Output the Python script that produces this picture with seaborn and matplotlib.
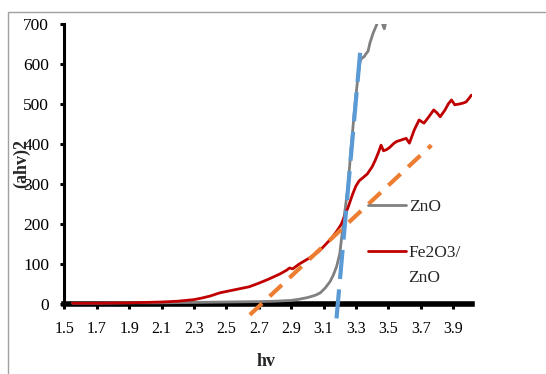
import matplotlib
matplotlib.use('Agg')
import matplotlib.pyplot as plt
import seaborn as sns
import pandas as pd
from matplotlib.patches import Rectangle

# ZnO curve
zno_hv = [1.55, 1.7, 1.9, 2.1, 2.3, 2.5, 2.7, 2.8, 2.9, 2.95, 3.0, 3.05, 3.08, 3.11, 3.14,
          3.16, 3.18, 3.2, 3.21, 3.23, 3.25, 3.27, 3.29, 3.31, 3.325, 3.335, 3.35, 3.365,
          3.375, 3.386, 3.406, 3.427, 3.44, 3.46, 3.475, 3.49]
zno_y = [2, 2, 3, 3, 4, 5, 6, 7, 9, 12, 16, 22, 28, 40, 56, 72, 93, 125, 160, 227, 290,
         390, 480, 560, 605, 614, 618, 627, 632, 652, 677, 697, 715, 705, 688, 715]

# Fe2O3/ZnO curve
fe_hv = [1.55, 1.7, 1.9, 2.0, 2.1, 2.2, 2.3, 2.35, 2.4, 2.46, 2.52, 2.58, 2.64, 2.7, 2.76,
         2.83, 2.87, 2.89, 2.91, 2.95, 3.0, 3.04, 3.08, 3.12, 3.15, 3.18, 3.21, 3.23, 3.25,
         3.28, 3.30, 3.32, 3.35, 3.37, 3.40, 3.42, 3.44, 3.455, 3.47, 3.49, 3.51, 3.53, 3.55,
         3.58, 3.61, 3.63, 3.66, 3.69, 3.72, 3.75, 3.78, 3.80, 3.82, 3.85, 3.87, 3.89, 3.91,
         3.94, 3.96, 3.98, 4.00, 4.013]
fe_y = [2, 2, 3, 4, 5, 7, 11, 15, 20, 28, 33, 38, 43, 52, 62, 75, 84, 90, 88, 100, 112,
        122, 135, 152, 165, 181, 200, 220, 240, 275, 295, 308, 318, 325, 343, 360, 380, 397,
        383, 386, 392, 400, 406, 410, 414, 402, 435, 460, 452, 468, 485, 478, 468, 485, 500,
        510, 498, 500, 502, 505, 515, 522]

# tangent (band gap) lines
fit_fe_hv = [2.645, 3.766]
fit_fe_y = [-27, 397]
fit_zno_hv = [3.18, 3.33]
fit_zno_y = [-36, 647]

x_ticks = [1.5, 1.7, 1.9, 2.1, 2.3, 2.5, 2.7, 2.9, 3.1, 3.3, 3.5, 3.7, 3.9]
y_ticks = [0, 100, 200, 300, 400, 500, 600, 700]

sns.set_style('white')
plt.rcParams['font.family'] = ['Liberation Serif', 'DejaVu Serif']

fig = plt.figure(figsize=(5.46, 3.74), dpi=100)
ax = fig.add_axes([0.118, 0.139, 0.746, 0.797])

df_zno = pd.DataFrame({'hv': zno_hv, 'y': zno_y})
df_fe = pd.DataFrame({'hv': fe_hv, 'y': fe_y})
sns.lineplot(data=df_zno, x='hv', y='y', ax=ax, color='#808080', lw=2, sort=False,
             label='ZnO', zorder=3)
sns.lineplot(data=df_fe, x='hv', y='y', ax=ax, color='#C00000', lw=2, sort=False,
             label='Fe2O3/', zorder=3)
sns.lineplot(x=fit_fe_hv, y=fit_fe_y, ax=ax, color='#ED7D31', lw=3,
             linestyle=(0, (4, 2.5)), zorder=4)
sns.lineplot(x=fit_zno_hv, y=fit_zno_y, ax=ax, color='#5B9BD5', lw=3,
             linestyle=(0, (7, 2.5)), zorder=5)

ax.set_xlim(1.5, 4.015)
ax.set_ylim(-45, 700)
ax.set_xticks(x_ticks)
ax.set_xticklabels([f'{t:.1f}' for t in x_ticks])
ax.set_yticks(y_ticks)
ax.set_xlabel('')
ax.set_ylabel('')

for s in ['top', 'right']:
    ax.spines[s].set_visible(False)
ax.spines['bottom'].set_position(('data', 0))
ax.spines['bottom'].set_linewidth(4)
ax.spines['bottom'].set_color('black')
ax.spines['left'].set_bounds(0, 700)
ax.spines['left'].set_linewidth(2.2)
ax.spines['left'].set_color('black')
ax.tick_params(axis='x', direction='out', length=3.6, width=2.2, pad=8.5,
               labelsize=11.5, colors='black', bottom=True)
ax.tick_params(axis='y', direction='out', length=3, width=2.2, pad=8,
               labelsize=12.5, colors='black', left=True)

leg = ax.legend(handles=ax.lines[:2], labels=['ZnO', 'Fe2O3/'], frameon=False,
                loc='upper left', bbox_to_anchor=(0.674, 0.468),
                bbox_transform=fig.transFigure, borderpad=0, borderaxespad=0,
                handlelength=2.2, handletextpad=0.15, labelspacing=1.72,
                prop={'size': 12.5})
fig.text(408 / 546, 1 - 278 / 374, 'ZnO', ha='left', va='center', fontsize=12.5)

fig.text(22 / 546, 1 - 163 / 374, '(ahv)2', rotation=90, ha='center', va='center',
         fontsize=13, fontweight='bold')
fig.text(266 / 546, 1 - 362 / 374, 'hv', ha='center', va='center',
         fontsize=13, fontweight='bold')

fig.add_artist(Rectangle((8 / 546, -0.5), 2, 0.5 + 1 - 12 / 374, transform=fig.transFigure,
                         fill=False, edgecolor='#A0A0A0', lw=1))

fig.savefig('out.png', dpi=100)
